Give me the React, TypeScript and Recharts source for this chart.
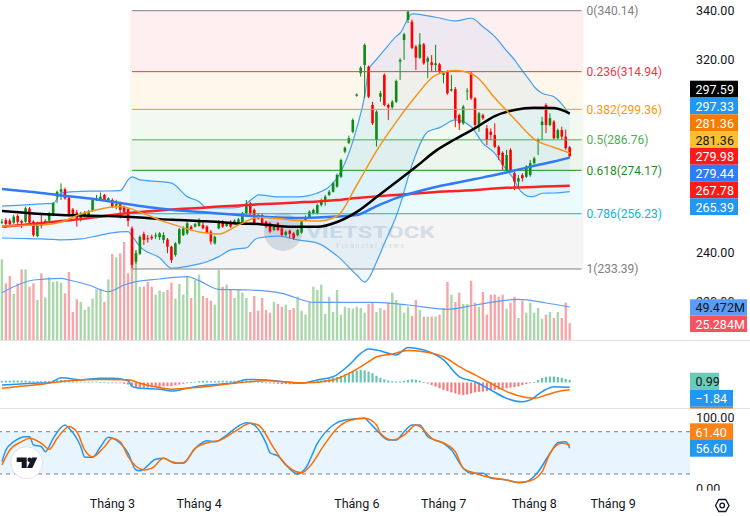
import React from "react";
import { ComposedChart, Bar, Line, Area, XAxis, YAxis, ReferenceLine, ReferenceArea } from "recharts";

// bar slots: 145 sessions + empty future slots up to the price scale
const SLOTS = 175;

// daily candles [open, high, low, close]
const candles: number[][] = [
  [252.6, 254.0, 251.9, 252.9], [253.6, 254.4, 250.3, 252.0], [253.4, 254.2, 251.0, 251.9], [252.5, 255.8, 252.0, 255.0], [255.3, 256.0, 250.9, 252.9],
  [253.2, 253.8, 250.3, 252.5], [252.9, 259.2, 252.5, 258.5], [258.4, 259.0, 252.0, 252.5], [253.0, 253.5, 246.7, 247.4], [247.0, 253.0, 246.5, 252.5],
  [252.5, 256.4, 250.2, 251.2], [252.8, 254.0, 252.3, 253.3], [253.4, 257.0, 253.0, 256.4], [255.7, 261.0, 255.2, 260.5], [263.3, 265.8, 260.7, 265.3],
  [265.3, 268.8, 261.9, 266.3], [266.3, 267.0, 262.0, 262.6], [262.9, 263.3, 255.0, 255.7], [258.0, 258.6, 255.0, 255.7], [256.8, 257.8, 250.9, 253.6],
  [253.6, 257.0, 253.0, 256.4], [255.7, 257.4, 255.2, 256.6], [255.7, 257.8, 255.2, 257.0], [257.4, 262.3, 257.0, 261.9], [261.9, 264.0, 261.5, 262.6],
  [262.2, 265.0, 262.0, 263.3], [264.0, 264.4, 261.5, 261.9], [261.9, 263.0, 261.5, 262.6], [261.9, 262.6, 258.6, 259.1], [259.6, 262.0, 258.0, 260.3],
  [260.5, 261.2, 254.3, 257.8], [259.1, 259.6, 256.4, 257.0], [258.1, 258.6, 250.9, 253.3], [250.2, 251.0, 233.7, 235.1], [236.4, 241.0, 235.5, 239.9],
  [239.7, 247.3, 239.2, 246.7], [247.9, 248.8, 243.3, 245.4], [246.1, 247.4, 244.3, 245.7], [246.7, 247.6, 245.4, 246.1], [246.8, 248.4, 245.8, 247.3],
  [246.5, 248.6, 245.4, 248.1], [245.4, 248.6, 244.0, 247.4], [245.6, 246.2, 239.9, 242.6], [242.6, 243.0, 235.9, 237.1], [239.2, 244.5, 238.5, 244.0],
  [244.0, 250.3, 243.5, 249.8], [247.4, 251.0, 247.0, 250.2], [248.1, 252.8, 247.5, 252.3], [250.9, 251.5, 249.2, 249.8], [250.9, 252.5, 250.5, 251.9],
  [251.2, 254.4, 250.9, 253.6], [251.6, 252.6, 249.8, 250.2], [250.9, 251.5, 247.8, 248.4], [248.8, 249.5, 243.5, 244.7], [244.0, 247.2, 243.5, 246.7],
  [250.2, 253.6, 249.8, 253.0], [253.0, 253.6, 250.4, 250.9], [251.2, 252.8, 250.8, 252.3], [253.0, 253.5, 250.4, 250.9], [252.3, 253.9, 251.9, 253.4],
  [252.5, 254.5, 252.1, 253.9], [252.5, 257.0, 252.0, 256.4], [256.4, 261.9, 255.0, 259.8], [260.5, 261.2, 255.7, 256.4], [257.8, 258.4, 251.8, 252.3],
  [255.7, 256.3, 253.8, 254.3], [255.7, 256.2, 251.8, 252.3], [253.0, 253.5, 250.3, 250.9], [252.3, 252.8, 248.2, 248.8], [249.5, 251.5, 249.0, 250.9],
  [252.3, 252.8, 249.0, 249.5], [250.2, 250.8, 246.9, 247.4], [247.4, 249.3, 246.9, 248.8], [249.2, 249.7, 246.0, 247.9], [248.1, 248.6, 245.4, 246.1],
  [247.4, 250.0, 246.9, 249.5], [248.4, 253.5, 248.0, 253.0], [253.6, 255.5, 253.2, 254.8], [254.8, 257.6, 254.3, 257.1], [256.4, 258.3, 256.0, 257.8],
  [256.4, 260.4, 256.0, 259.8], [259.8, 262.5, 259.3, 261.6], [261.2, 264.0, 259.5, 263.3], [264.0, 266.0, 263.5, 265.3], [265.3, 269.5, 265.0, 268.9],
  [267.4, 272.8, 267.0, 272.2], [271.5, 279.0, 271.0, 278.4], [281.9, 284.0, 281.2, 283.5], [285.5, 288.5, 285.0, 287.5], [290.1, 295.6, 289.5, 295.0],
  [305.0, 306.0, 304.6, 305.5], [314.3, 317.2, 312.9, 316.6], [317.7, 326.6, 304.1, 326.0], [317.0, 317.5, 304.0, 304.6], [301.2, 302.5, 292.9, 293.6],
  [286.7, 299.0, 284.0, 298.4], [304.6, 307.0, 302.5, 306.0], [313.6, 314.2, 300.6, 301.2], [301.2, 301.8, 295.0, 300.1], [300.2, 303.2, 299.6, 302.5],
  [302.5, 311.7, 302.0, 311.1], [319.1, 320.5, 311.5, 319.8], [328.0, 331.0, 319.8, 330.4], [336.3, 340.1, 335.0, 339.7], [335.6, 336.5, 324.2, 324.8],
  [325.3, 326.0, 315.6, 320.7], [320.7, 330.9, 320.2, 326.2], [326.2, 326.8, 317.8, 318.4], [319.1, 321.2, 312.2, 320.5], [318.8, 321.8, 315.2, 317.7],
  [317.7, 326.0, 314.9, 318.4], [318.0, 318.6, 314.3, 314.9], [313.6, 315.0, 310.1, 314.3], [314.9, 315.5, 305.4, 306.0], [307.1, 313.6, 306.7, 307.7],
  [307.7, 308.6, 292.0, 295.5], [297.0, 297.6, 290.8, 293.6], [293.6, 301.2, 293.0, 300.5], [306.7, 308.1, 303.2, 307.1], [314.3, 314.9, 303.3, 303.9],
  [303.9, 304.4, 292.2, 292.9], [292.9, 298.3, 290.1, 297.7], [297.0, 297.6, 295.0, 295.7], [291.5, 292.9, 284.6, 286.7], [290.1, 291.5, 286.7, 288.8],
  [288.8, 293.6, 283.3, 283.9], [283.9, 284.5, 278.4, 280.5], [281.4, 282.0, 274.3, 276.4], [274.3, 282.6, 273.8, 280.5], [282.6, 283.3, 273.6, 274.3],
  [273.0, 273.6, 266.0, 269.5], [269.5, 272.2, 266.7, 270.9], [272.2, 273.0, 269.5, 270.9], [271.5, 276.3, 271.0, 275.7], [272.2, 278.4, 271.5, 277.1],
  [277.1, 279.8, 276.4, 279.1], [286.1, 287.4, 280.5, 286.7], [292.9, 296.3, 286.7, 294.3], [301.2, 301.9, 289.5, 292.9], [292.9, 297.7, 292.4, 295.7],
  [294.3, 294.9, 286.9, 287.4], [287.4, 291.4, 287.0, 290.8], [290.8, 292.2, 286.7, 288.1], [288.1, 291.0, 282.6, 283.3], [283.7, 284.2, 279.3, 279.98],
];

// volume, millions
const volumes: number[] = [
  121, 85, 96, 69, 85, 106, 106, 80, 85, 60,
  100, 64, 94, 87, 88, 86, 70, 102, 42, 61,
  57, 45, 50, 62, 76, 76, 57, 91, 129, 124,
  130, 147, 100, 140, 135, 80, 80, 87, 80, 68,
  74, 72, 75, 86, 62, 84, 68, 95, 63, 90,
  98, 66, 63, 59, 53, 105, 80, 83, 75, 63,
  75, 71, 63, 42, 66, 44, 63, 45, 41, 57,
  54, 50, 53, 45, 48, 65, 44, 38, 57, 80,
  75, 83, 39, 65, 42, 75, 38, 50, 48, 47,
  50, 48, 41, 54, 57, 42, 48, 45, 56, 71,
  60, 53, 41, 50, 36, 60, 45, 35, 35, 35,
  35, 38, 48, 87, 68, 57, 71, 54, 54, 89,
  56, 50, 72, 38, 68, 68, 65, 68, 47, 56,
  65, 33, 59, 41, 56, 41, 48, 32, 38, 42,
  33, 42, 33, 56, 25.284,
];

// MACD histogram per session
const macdHist: number[] = [
  0.6, 0.7, 0.7, 0.8, 0.8, 0.7, 0.7, 0.6, 0.5, 0.5,
  0.5, 0.6, 0.6, 0.7, 0.9, 1.0, 0.9, 0.7, 0.5, 0.4,
  0.3, 0.3, 0.3, 0.3, 0.3, 0.2, 0.1, 0.0, -0.1, -0.2,
  -0.3, -0.5, -0.8, -1.4, -1.8, -1.9, -2.0, -2.0, -1.9, -1.8,
  -1.7, -1.5, -1.4, -1.4, -1.1, -0.8, -0.5, -0.2, 0.1, 0.3,
  0.5, 0.6, 0.6, 0.5, 0.5, 0.6, 0.7, 0.7, 0.7, 0.7,
  0.7, 0.8, 0.8, 0.7, 0.5, 0.4, 0.2, 0.0, -0.2, -0.4,
  -0.5, -0.6, -0.6, -0.7, -0.6, -0.4, -0.2, 0.0, 0.2, 0.4,
  0.6, 0.8, 1.0, 1.3, 1.7, 2.1, 2.6, 3.1, 3.7, 4.2,
  4.6, 4.9, 4.7, 4.2, 3.6, 2.6, 1.8, 1.2, 0.8, 0.5,
  0.4, 0.4, 0.6, 1.0, 1.2, 1.1, 0.7, 0.2, -0.4, -1.0,
  -1.6, -2.2, -2.8, -3.3, -3.8, -4.2, -4.6, -4.8, -4.6, -4.2,
  -3.8, -3.6, -3.5, -3.3, -3.0, -2.8, -2.6, -2.4, -2.2, -2.0,
  -1.8, -1.5, -1.0, -0.6, -0.3, 0.2, 1.0, 1.8, 2.2, 2.3,
  2.3, 2.1, 1.8, 1.4, 0.99,
];

// indicator lines read at selected sessions: [session, value]
const ma20 = [[0, 251.2], [5, 251.4], [10, 251.6], [15, 252.8], [20, 256.1], [25, 258.2], [30, 259.2], [35, 256.9], [40, 253.6], [45, 251.0], [50, 248.7], [55, 247.9], [60, 251.6], [65, 254.7], [70, 254.3], [75, 253.4], [80, 253.2], [85, 255.3], [90, 268.1], [95, 282.2], [100, 294.2], [105, 304.9], [110, 313.5], [115, 315.4], [120, 313.2], [125, 304.1], [130, 295.4], [135, 287.1], [140, 283.6], [144, 281.36]];
const ma50 = [[0, 257.4], [5, 256.7], [10, 256.1], [15, 255.7], [20, 255.5], [25, 255.3], [30, 255.1], [35, 254.7], [40, 254.0], [45, 253.6], [50, 253.2], [55, 252.8], [60, 252.2], [65, 252.0], [70, 251.2], [75, 250.8], [80, 250.8], [85, 252.8], [90, 257.0], [95, 263.1], [100, 269.3], [105, 275.6], [110, 282.2], [115, 287.1], [120, 291.6], [125, 296.6], [130, 299.1], [135, 300.0], [140, 299.9], [144, 297.59]];
const ma100 = [[0, 266.45], [5, 265.6], [10, 264.8], [15, 263.8], [20, 262.9], [25, 261.9], [30, 260.7], [35, 259.4], [40, 258.4], [45, 257.6], [50, 256.95], [55, 256.3], [60, 255.7], [65, 255.1], [70, 254.7], [75, 254.5], [80, 254.7], [85, 255.1], [90, 255.7], [95, 259.4], [100, 262.7], [105, 265.2], [110, 267.3], [115, 268.9], [120, 270.6], [125, 272.2], [130, 274.1], [135, 276.0], [140, 277.8], [144, 279.44]];
const ma200 = [[0, 250.9], [5, 251.6], [10, 252.4], [15, 253.2], [20, 254.0], [25, 255.1], [30, 256.1], [35, 256.9], [40, 257.6], [45, 258.2], [50, 258.6], [55, 259.2], [60, 259.6], [65, 260.1], [70, 260.5], [75, 260.9], [80, 261.3], [85, 261.9], [90, 262.7], [95, 263.4], [100, 264.0], [105, 264.6], [110, 265.2], [115, 265.6], [120, 266.0], [125, 266.7], [130, 267.1], [135, 267.3], [140, 267.6], [144, 267.78]];
const bbUpper = [[0, 259.4], [5, 259.8], [10, 260.3], [13, 260.5], [15, 264.8], [20, 265.5], [25, 265.6], [30, 265.8], [32, 270.2], [33, 271.5], [35, 270.2], [40, 269.5], [43, 268.9], [47, 263.3], [50, 261.2], [52, 258.6], [55, 258.6], [58, 258.6], [60, 258.8], [62, 260.5], [64, 263.0], [65, 264.0], [70, 263.2], [75, 263.2], [80, 264.8], [85, 271.0], [90, 291.7], [92, 305.0], [93, 315.6], [95, 320.0], [97, 323.9], [100, 329.5], [101, 330.9], [104, 338.8], [108, 338.0], [111, 337.1], [115, 335.9], [119, 337.0], [122, 333.5], [125, 329.4], [128, 323.5], [130, 319.8], [131, 317.5], [134, 311.0], [135, 308.7], [137, 306.0], [140, 304.6], [144, 297.33]];
const bbLower = [[0, 246.2], [5, 246.0], [10, 245.8], [13, 245.6], [15, 245.4], [20, 245.8], [25, 247.4], [30, 248.7], [32, 248.8], [33, 247.0], [35, 242.6], [40, 238.0], [43, 233.7], [47, 234.5], [50, 235.5], [52, 236.4], [55, 238.5], [58, 241.3], [60, 241.8], [62, 242.1], [64, 245.4], [65, 246.2], [70, 247.0], [75, 245.4], [80, 244.1], [85, 238.8], [90, 230.9], [92, 228.0], [93, 229.5], [95, 236.3], [97, 244.0], [100, 255.3], [101, 260.0], [104, 276.4], [108, 290.1], [111, 291.8], [115, 295.0], [119, 292.2], [122, 285.3], [125, 281.2], [128, 274.3], [130, 270.0], [131, 266.7], [134, 263.3], [135, 263.4], [137, 264.7], [140, 264.8], [144, 265.39]];
const volMa = [[0, 71], [8, 90], [15, 92.5], [17, 90], [22, 82.5], [27, 72.5], [31, 82.5], [34, 87.5], [40, 91.5], [47, 95], [50, 89], [55, 76], [63, 75], [71, 70], [79, 56.5], [86, 56.5], [95, 56.5], [103, 52.5], [113, 46], [120, 52.5], [131, 61], [138, 55.5], [144, 49.472]];
const macdLine = [[0, -1.0], [8, -0.3], [12, -0.1], [15, 1.8], [20, 1.0], [25, 1.6], [28, 1.6], [32, 0.7], [33, -1.6], [35, -2.2], [40, -2.6], [43, -3.3], [47, -2.2], [52, -1.0], [59, -0.1], [62, 1.2], [67, 1.0], [76, -0.3], [80, 1.0], [84, 2.2], [88, 6.7], [91, 11.2], [93, 12.9], [95, 12.5], [100, 10.6], [103, 13.5], [107, 12.5], [112, 8.7], [116, 2.2], [120, 0.3], [124, -2.9], [128, -6.1], [132, -7.4], [134, -6.7], [137, -3.5], [140, -1.6], [144, -1.84]];
const macdSignal = [[0, -2.2], [8, -1.0], [17, 0.7], [25, 1.2], [32, 1.1], [35, -0.3], [38, -1.4], [43, -2.6], [50, -1.8], [59, -0.3], [67, 0.7], [76, -0.2], [84, 1.0], [88, 3.5], [93, 8.0], [95, 9.9], [99, 11.0], [103, 12.3], [107, 11.8], [112, 9.9], [116, 6.1], [120, 2.9], [124, -0.3], [128, -3.5], [133, -5.8], [135, -6.1], [138, -4.8], [142, -3.2], [144, -2.83]];
const stochK = [[0, 37.4], [1, 54], [3, 65.8], [6, 72.9], [7, 72.9], [8, 61.1], [10, 58.7], [11, 51.6], [13, 70.6], [16, 89.5], [17, 84.8], [20, 58.7], [21, 43.7], [23, 43.7], [25, 58.7], [27, 72.1], [29, 68.2], [32, 49.4], [34, 25.7], [35, 24.7], [39, 40.9], [41, 42.3], [44, 35.2], [46, 36], [49, 56.4], [52, 67.3], [54, 65.8], [57, 75.3], [60, 88.1], [62, 92.8], [64, 89.5], [67, 63.5], [68, 50.2], [70, 45.5], [72, 32.8], [75, 20], [77, 28.1], [80, 63.5], [84, 89.5], [87, 96.6], [92, 99], [93, 94.2], [95, 82.4], [98, 68.2], [100, 68.2], [102, 80], [104, 89.5], [106, 89.5], [108, 72.9], [112, 63.5], [114, 54], [117, 28.1], [119, 21], [122, 21], [124, 13.9], [128, 11.5], [131, 7.7], [133, 9.1], [136, 23.3], [139, 49.4], [141, 64.4], [143, 65.8], [144, 56.6]];
const stochD = [[0, 32.8], [2, 54], [5, 65.8], [7, 70.6], [10, 63.5], [12, 55], [14, 70.6], [17, 87.1], [19, 80], [21, 54], [23, 44.6], [26, 58.7], [28, 70.6], [30, 65.8], [32, 44.6], [36, 25.7], [38, 28.1], [41, 42.3], [43, 37.4], [46, 35.2], [49, 56.4], [53, 65.8], [55, 67.3], [59, 80], [63, 91.9], [65, 89.5], [69, 56.4], [71, 39.9], [76, 21.8], [78, 30.4], [82, 63.5], [85, 84.8], [88, 95.6], [92, 99], [95, 89.5], [96, 77.7], [99, 68.2], [102, 75.3], [105, 89.5], [106, 87.1], [109, 70.6], [113, 61.1], [115, 51.6], [117, 28.1], [120, 21], [123, 16.2], [128, 11.5], [131, 8.2], [134, 10.5], [137, 23.3], [139, 49.4], [142, 63.5], [144, 61.4]];

// fibonacci retracement [ratio, price]
const fibLevels = [[0, 340.14], [0.236, 314.94], [0.382, 299.36], [0.5, 286.76], [0.618, 274.17], [0.786, 256.23], [1, 233.39]];
const fibColors = ["#808080", "#f23645", "#ff9800", "#4caf50", "#1f8f1f", "#00bcd4", "#808080"];
const FIB_FROM = 33;
const FIB_TO = 147;

// visible price scale labels (the others sit under the value tags)
const priceTicks = [220, 240, 320, 340];
const monthTicks: [number, string][] = [[28, "Tháng 3"], [50, "Tháng 4"], [90, "Tháng 6"], [112, "Tháng 7"], [135, "Tháng 8"], [155, "Tháng 9"]];

const UP = "#0e8a16";
const DOWN = "#ff0000";
const TEXT = "#131722";
const FONT = "Roboto, 'Noto Sans', sans-serif";

type Row = { [k: string]: number | null | undefined };

const rows: Row[] = Array.from({ length: SLOTS }, (_, i) => {
  const k = candles[i];
  return {
    i,
    o: k ? k[0] : null,
    h: k ? k[1] : null,
    l: k ? k[2] : null,
    c: k ? k[3] : null,
    vol: i < volumes.length ? volumes[i] : null,
    hist: i < macdHist.length ? macdHist[i] : null,
  };
});
const put = (key: string, pts: number[][]) => pts.forEach(([i, v]) => { rows[i][key] = v; });
put("ma20", ma20);
put("ma50", ma50);
put("ma100", ma100);
put("ma200", ma200);
put("bbU", bbUpper);
put("bbL", bbLower);
put("volMa", volMa);
put("macd", macdLine);
put("signal", macdSignal);
put("k", stochK);
put("d", stochD);

const last = (pts: number[][]) => pts[pts.length - 1][1];
const fmt = (v: number, d = 2) => (v < 0 ? "\u2212" + Math.abs(v).toFixed(d) : v.toFixed(d));

function Candle(props: any) {
  const { x, y, width, height, payload } = props;
  if (!payload || payload.c == null || height == null) return <g />;
  const top = Math.min(y, y + height);
  const full = Math.abs(height);
  const { o, h, l, c } = payload;
  const span = h - l || 1;
  const toY = (v: number) => top + ((h - v) / span) * full;
  const color = c >= o ? UP : DOWN;
  const cx = x + width / 2;
  const bTop = toY(Math.max(o, c));
  const bBot = toY(Math.min(o, c));
  return (
    <g>
      <line x1={cx} x2={cx} y1={top} y2={top + full} stroke={color} strokeWidth={1} />
      <rect x={cx - 1.3} y={bTop} width={2.6} height={Math.max(bBot - bTop, 1)} fill={color} />
    </g>
  );
}

function VolumeBar(props: any) {
  const { x, y, width, height, payload } = props;
  if (!payload || payload.vol == null) return <g />;
  const fill = payload.c >= payload.o ? "#a9d8aa" : "#f7a7aa";
  return <rect x={x + width / 2 - 1.2} y={Math.min(y, y + height)} width={2.4} height={Math.abs(height)} fill={fill} />;
}

function HistBar(props: any) {
  const { x, y, width, height, payload } = props;
  if (!payload || payload.hist == null) return <g />;
  const fill = payload.hist >= 0 ? "#67c6b0" : "#f07e7e";
  return <rect x={x + width / 2 - 1.1} y={Math.min(y, y + height)} width={2.2} height={Math.max(Math.abs(height), 0.8)} fill={fill} />;
}

const lineOf = (key: string, color: string, w: number) => (
  <Line key={key} dataKey={key} stroke={color} strokeWidth={w} type="monotone" dot={false} activeDot={false} connectNulls isAnimationActive={false} />
);

function Tag({ x, y, w, h, bg, fg, text }: { x: number; y: number; w: number; h: number; bg: string; fg: string; text: string }) {
  return (
    <g>
      <rect x={x} y={y} width={w} height={h} fill={bg} />
      <text x={x + 5.5} y={y + h / 2 + 0.5} fill={fg} fontSize={12.5} dominantBaseline="central">{text}</text>
    </g>
  );
}

export default function App() {
  const priceTags = [
    { v: last(ma50), bg: "#000000", fg: "#ffffff" },
    { v: last(bbUpper), bg: "#2196f3", fg: "#ffffff" },
    { v: last(ma20), bg: "#f57c00", fg: "#ffffff" },
    { v: last(ma20), bg: "#fbc02d", fg: TEXT },
    { v: candles[candles.length - 1][3], bg: "#ff1a1a", fg: "#ffffff" },
    { v: last(ma100), bg: "#2e7cf6", fg: "#ffffff" },
    { v: last(ma200), bg: "#ff1a1a", fg: "#ffffff" },
    { v: last(bbLower), bg: "#2196f3", fg: "#ffffff" },
  ];
  const monthName = new Map(monthTicks);
  const axisTick = { fill: TEXT, fontSize: 12.5 };

  return (
    <div style={{ position: "absolute", left: 0, top: 0, width: 750, height: 516, background: "#fff", fontFamily: FONT, overflow: "hidden" }}>
      {/* watermark */}
      <svg width={750} height={340} style={{ position: "absolute", left: 0, top: 0 }}>
        <g fill="#7f9bb8">
          <circle cx={283} cy={232} r={19} opacity={0.3} />
          <text x={306} y={238} fontSize={17} fontWeight={700} textLength={129} lengthAdjust="spacingAndGlyphs" opacity={0.25}>VIETSTOCK</text>
          <text x={336} y={248} fontSize={7} textLength={68} opacity={0.25}>Financial News</text>
        </g>
      </svg>

      {/* volume */}
      <div style={{ position: "absolute", left: 0, top: 0 }}>
        <ComposedChart width={750} height={340} data={rows} margin={{ top: 0, right: 60, bottom: 0, left: 0 }}>
          <XAxis dataKey="i" scale="band" hide />
          <YAxis hide domain={[0, 510]} allowDataOverflow />
          <Bar dataKey="vol" shape={(p: any) => <VolumeBar {...p} />} isAnimationActive={false} />
          {lineOf("volMa", "#5b9cf6", 1.2)}
        </ComposedChart>
      </div>

      {/* price */}
      <div style={{ position: "absolute", left: 0, top: 0 }}>
        <ComposedChart width={750} height={340} data={rows} margin={{ top: 0, right: 0, bottom: 0, left: 0 }}>
          <XAxis dataKey="i" scale="band" hide />
          <YAxis orientation="right" width={60} domain={[204.05, 344.55]} allowDataOverflow ticks={priceTicks}
            tickFormatter={(v: number) => v.toFixed(2)} axisLine={false} tickLine={false} tickSize={0} tickMargin={6} tick={axisTick} />
          {fibLevels.slice(1).map(([, p], k) => (
            <ReferenceArea key={"fa" + k} x1={FIB_FROM} x2={FIB_TO} y1={fibLevels[k][1]} y2={p}
              fill={fibColors[k + 1]} fillOpacity={0.08} stroke="none" />
          ))}
          {fibLevels.map(([ratio, p], k) => (
            <ReferenceLine key={"fl" + k} segment={[{ x: FIB_FROM, y: p }, { x: FIB_TO, y: p }]} stroke={fibColors[k]} strokeWidth={1}
              label={{ value: `${ratio}(${p.toFixed(2)})`, position: "right", fill: fibColors[k], fontSize: 12 }} />
          ))}
          {/* Bollinger band: upper/lower edges drawn as the strokes of one range area */}
          <Area dataKey={(r: Row) => (r.bbU == null ? null : [r.bbL, r.bbU])} type="monotone" stroke="#42a0f5" strokeWidth={1.2}
            fill="#2196f3" fillOpacity={0.07} dot={false} activeDot={false} connectNulls isAnimationActive={false} />
          {lineOf("ma200", "#ff2222", 2.5)}
          {lineOf("ma100", "#3179f5", 2.5)}
          {lineOf("ma50", "#000000", 2.5)}
          {lineOf("ma20", "#f7931a", 1.5)}
          <Bar dataKey={(r: Row) => (r.c == null ? null : [r.l, r.h])} shape={(p: any) => <Candle {...p} />} isAnimationActive={false} />
        </ComposedChart>
      </div>

      {/* MACD */}
      <div style={{ position: "absolute", left: 0, top: 341 }}>
        <ComposedChart width={750} height={67} data={rows} margin={{ top: 0, right: 60, bottom: 0, left: 0 }}>
          <XAxis dataKey="i" scale="band" hide />
          <YAxis hide domain={[-9.81, 15.96]} allowDataOverflow />
          <Bar dataKey="hist" shape={(p: any) => <HistBar {...p} />} isAnimationActive={false} />
          {lineOf("macd", "#2196f3", 1.5)}
          {lineOf("signal", "#ff6d00", 1.5)}
        </ComposedChart>
      </div>

      {/* Stochastic + time axis */}
      <div style={{ position: "absolute", left: 0, top: 409 }}>
        <ComposedChart width={750} height={107} data={rows} margin={{ top: 0, right: 0, bottom: 0, left: 0 }}>
          <XAxis dataKey="i" scale="band" height={26} ticks={monthTicks.map((t) => t[0])} interval={0}
            tickFormatter={(v: number) => monthName.get(v) ?? ""} axisLine={false} tickLine={false} tickSize={0} tickMargin={9} tick={axisTick} />
          <YAxis orientation="right" width={60} domain={[-2.7, 112.2]} allowDataOverflow ticks={[0, 100]}
            tickFormatter={(v: number) => v.toFixed(2)} axisLine={false} tickLine={false} tickSize={0} tickMargin={6} tick={axisTick} />
          <ReferenceArea y1={20} y2={80} fill="#2196f3" fillOpacity={0.1} stroke="none" />
          <ReferenceLine y={80} stroke="#787b86" strokeDasharray="4 4" />
          <ReferenceLine y={20} stroke="#787b86" strokeDasharray="4 4" />
          {lineOf("k", "#2196f3", 1.5)}
          {lineOf("d", "#ff6d00", 1.5)}
        </ComposedChart>
      </div>

      {/* scale tags, pane borders, logos */}
      <svg width={750} height={516} style={{ position: "absolute", left: 0, top: 0, pointerEvents: "none" }}>
        <line x1={0} x2={750} y1={340.5} y2={340.5} stroke="#e0e3eb" />
        <line x1={0} x2={750} y1={408.5} y2={408.5} stroke="#e0e3eb" />
        {priceTags.map((t, k) => (
          <Tag key={k} x={690} y={80.7 + k * 16.8} w={48} h={16.8} bg={t.bg} fg={t.fg} text={fmt(t.v)} />
        ))}
        <Tag x={690} y={299.3} w={57} h={16.2} bg="#5b9cf6" fg={TEXT} text={last(volMa).toFixed(3) + "M"} />
        <Tag x={690} y={315.5} w={57} h={16.5} bg="#f7525f" fg="#ffffff" text={volumes[volumes.length - 1].toFixed(3) + "M"} />
        <Tag x={690} y={372.7} w={29} h={17.3} bg="#6ccbb7" fg={TEXT} text={fmt(macdHist[macdHist.length - 1])} />
        <rect x={690} y={406.7} width={43} height={1.8} fill="#ff6d00" />
        <Tag x={690} y={390} w={43} h={16.7} bg="#2196f3" fg="#ffffff" text={fmt(last(macdLine))} />
        <Tag x={690} y={423.3} w={43} h={16.7} bg="#ff8216" fg="#ffffff" text={fmt(last(stochD))} />
        <Tag x={690} y={440} w={43} h={16.7} bg="#2196f3" fg="#ffffff" text={fmt(last(stochK))} />
        <rect x={690} y={490.7} width={60} height={9} fill="#ffffff" />
        <g fill="none" stroke={TEXT} strokeWidth={1.3}>
          <polygon points="715.5,505.5 718.8,499.5 725.7,499.5 729,505.5 725.7,511.5 718.8,511.5" />
          <circle cx={722.2} cy={505.5} r={2.3} />
        </g>
        <g>
          <circle cx={26.7} cy={462.7} r={16} fill="#ffffff" stroke="#e0e3eb" />
          <path d="M16.7 457.5 H26.7 V468 H21.7 V462 H16.7 Z" fill={TEXT} />
          <circle cx={29.6} cy={459.8} r={2.2} fill={TEXT} />
          <path d="M32 457.5 H37.3 L32.3 468 H27 Z" fill={TEXT} />
        </g>
      </svg>
    </div>
  );
}
